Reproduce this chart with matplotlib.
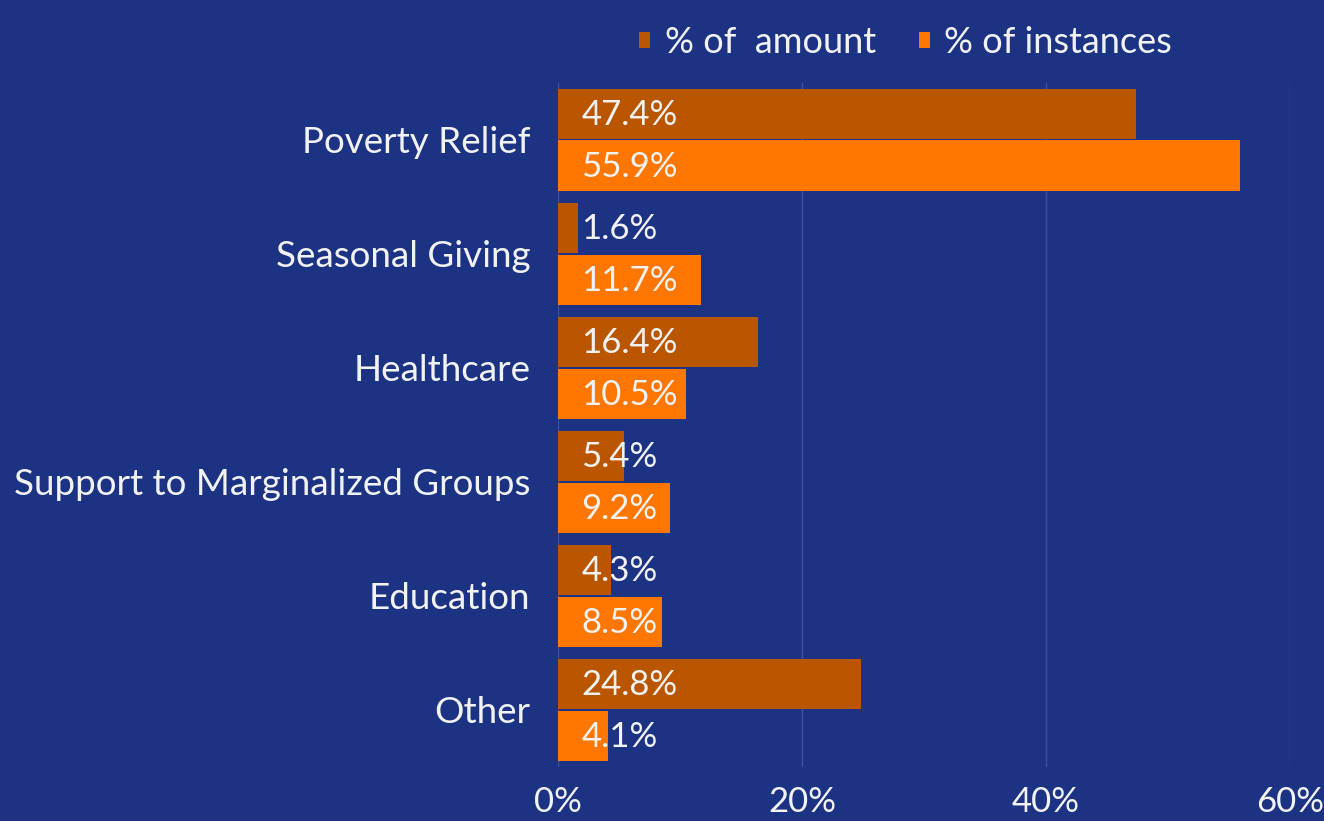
import matplotlib.pyplot as plt
import numpy as np

categories = ['Poverty Relief', 'Seasonal Giving', 'Healthcare',
              'Support to Marginalized Groups', 'Education', 'Other']
pct_amount = [47.4, 1.6, 16.4, 5.4, 4.3, 24.8]
pct_instances = [55.9, 11.7, 10.5, 9.2, 8.5, 4.1]
x_ticks = [0, 20, 40, 60]

BG = '#1c3384'
C_AMOUNT = '#bb5600'
C_INST = '#ff7700'
TXT = '#f2f2f2'

plt.rcParams['font.family'] = ['Lato', 'DejaVu Sans']

fig = plt.figure(figsize=(13.24, 8.21), dpi=100, facecolor=BG)
ax = fig.add_axes([0.4215, 0.0658, 0.5528, 0.8332], facecolor=BG)

y = np.arange(len(categories))
h = 0.44
ax.barh(y - 0.225, pct_amount, height=h, color=C_AMOUNT, label='% of  amount', zorder=2)
ax.barh(y + 0.225, pct_instances, height=h, color=C_INST, label='% of instances', zorder=2)

# value labels sit inside the bar, left aligned
for yi, a, b in zip(y, pct_amount, pct_instances):
    ax.text(1.9, yi - 0.215, f'{a}%', color=TXT, fontsize=25, va='center', ha='left', zorder=3)
    ax.text(1.9, yi + 0.235, f'{b}%', color=TXT, fontsize=25, va='center', ha='left', zorder=3)

ax.set_ylim(len(categories) - 0.5, -0.5)
ax.set_xlim(0, 60)
ax.set_yticks(y)
ax.set_yticklabels(categories, fontsize=26.5, color=TXT)
ax.set_xticks(x_ticks)
ax.set_xticklabels([f'{t}%' for t in x_ticks], fontsize=25, color=TXT)
ax.tick_params(axis='both', length=0)
ax.tick_params(axis='x', pad=14)
ax.tick_params(axis='y', pad=20)

ax.grid(axis='x', color='#3c519b', linewidth=1, zorder=0)
for s in ax.spines.values():
    s.set_visible(False)

fig.legend(loc='center', bbox_to_anchor=(0.684, 0.948), ncol=2, frameon=False,
           fontsize=26, labelcolor=TXT, handlelength=0.3, handleheight=0.3,
           handletextpad=0.4, columnspacing=1.2)

fig.savefig('out.png', dpi=100, facecolor=BG)
